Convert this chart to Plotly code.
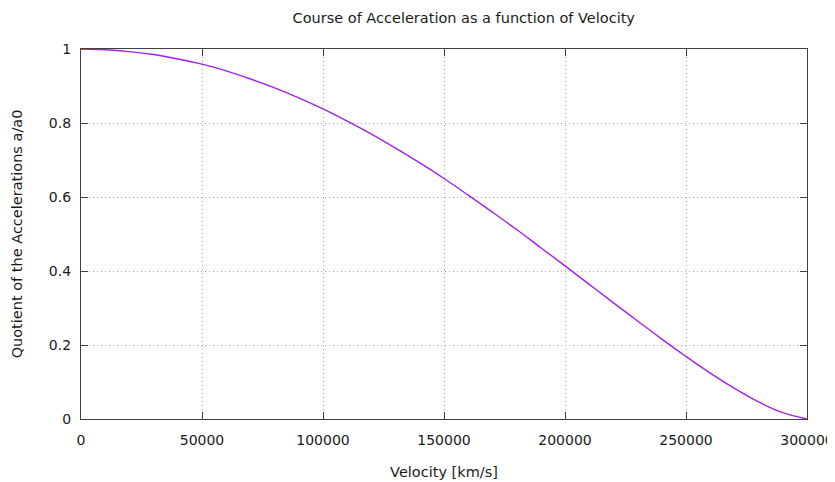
import plotly.graph_objects as go

velocity = [0, 10000, 20000, 30000, 40000, 50000, 60000, 70000, 80000, 90000,
            100000, 110000, 120000, 130000, 140000, 150000, 160000, 170000, 180000, 190000,
            200000, 210000, 220000, 230000, 240000, 250000, 260000, 270000, 280000, 290000, 300000]
quotient = [1.000, 0.998, 0.993, 0.985, 0.973, 0.959, 0.941, 0.919, 0.895, 0.868,
            0.838, 0.805, 0.770, 0.732, 0.692, 0.650, 0.605, 0.559, 0.512, 0.463,
            0.414, 0.364, 0.314, 0.265, 0.216, 0.169, 0.124, 0.083, 0.046, 0.017, 0.000]
x_ticks = [0, 50000, 100000, 150000, 200000, 250000, 300000]
y_ticks = [0, 0.2, 0.4, 0.6, 0.8, 1]
y_tick_labels = ["0", "0.2", "0.4", "0.6", "0.8", "1"]

font = "DejaVu Sans, Verdana, sans-serif"
txt = dict(size=14, color="#1a1a1a", family=font)
ttl = dict(size=14.5, color="#1a1a1a", family=font)

fig = go.Figure()
fig.add_trace(go.Scatter(x=velocity, y=quotient, mode="lines",
                         line=dict(color="#A020F0", width=1.4, shape="spline"),
                         showlegend=False))

axis_common = dict(showline=True, linecolor="#404040", linewidth=1.2, mirror="ticks",
                   ticks="inside", ticklen=7, tickcolor="#404040", tickwidth=1.2,
                   showgrid=True, gridcolor="#a8a8a8", griddash="1px,3px", gridwidth=1,
                   zeroline=False, automargin=False, tickfont=txt)

fig.update_layout(
    width=827, height=474,
    margin=dict(l=73, r=28, t=41, b=63),
    paper_bgcolor="white", plot_bgcolor="white",
    title=dict(text="Course of Acceleration as a function of Velocity",
               x=436 / 827, xanchor="center", xref="paper",
               y=1 - 10 / 474, yanchor="middle", yref="container",
               font=ttl),
    xaxis=dict(range=[0, 300000], tickvals=x_ticks, ticktext=[str(t) for t in x_ticks],
               ticklabelstandoff=8,
               title=dict(text="Velocity [km/s]", font=ttl, standoff=19),
               **axis_common),
    yaxis=dict(range=[0, 1], tickvals=y_ticks, ticktext=y_tick_labels,
               ticklabelstandoff=6,
               title=dict(text="Quotient of the Accelerations a/a0", font=ttl, standoff=22),
               **axis_common),
)

fig.write_html("out.html")
